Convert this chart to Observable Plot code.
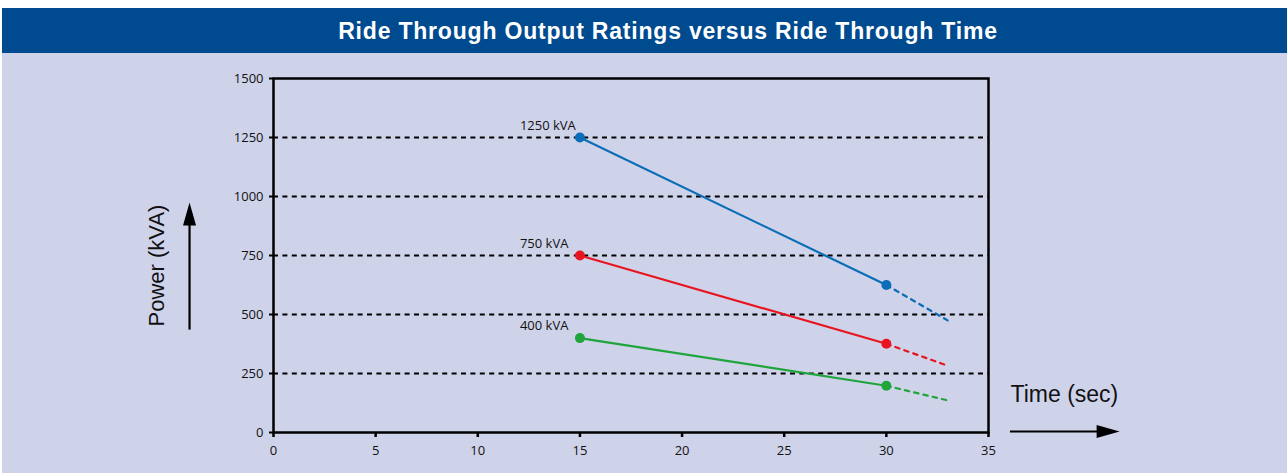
<!DOCTYPE html>
<html>
<head>
<meta charset="utf-8">
<script src="https://cdn.jsdelivr.net/npm/d3@7"></script>
<script src="https://cdn.jsdelivr.net/npm/@observablehq/plot@0.6"></script>
<style>
  html, body { margin: 0; padding: 0; background: #ffffff; }
  #wrap { position: relative; width: 1285px; margin-left: 2px; padding-top: 8px; }
  #header { position: relative; height: 45px; background: #004a8f; }
  #header span { position: absolute; left: 666px; top: 50%; transform: translate(-50%, -50%);
    font-family: "Liberation Sans", Arial, sans-serif; font-weight: bold; font-size: 23px; color: #ffffff; white-space: nowrap; letter-spacing: 0.8px; }
  #chart { background: #cfd3ea; height: 420px; }
  #chart svg { display: block; }
</style>
</head>
<body>
<div id="wrap">
  <div id="header"><span>Ride Through Output Ratings versus Ride Through Time</span></div>
  <div id="chart"></div>
</div>
<script>
// ---- data ----
const seriesNames = ["1250 kVA", "750 kVA", "400 kVA"];
const seriesColors = ["#0b6db7", "#e8141f", "#1fa53c"];
const times = [15, 30];
const power1250 = [1250, 625];
const power750 = [750, 376];
const power400 = [400, 198];
const extTime = 33;
const ext1250 = 475;
const ext750 = 283;
const ext400 = 136;
const xTicks = [0, 5, 10, 15, 20, 25, 30, 35];
const yTicks = [0, 250, 500, 750, 1000, 1250, 1500];
const gridValues = [250, 500, 750, 1000, 1250];
// axis-title arrows (in data units, outside the frame)
const yArrowX = [-4.11, -4.11];
const yArrowY = [436, 975];
const xArrowX = [36.05, 41.42];
const xArrowY = [4.2, 4.2];

const allSeries = [power1250, power750, power400];
const allExt = [ext1250, ext750, ext400];

const solid = [];
const dashed = [];
const dots = [];
const labels = [];
seriesNames.forEach((name, i) => {
  const vals = allSeries[i];
  times.forEach((t, j) => {
    solid.push({name, t, p: vals[j]});
    dots.push({name, t, p: vals[j]});
  });
  dashed.push({name, t: times[1], p: vals[1]});
  dashed.push({name, t: extTime, p: allExt[i]});
  labels.push({name, t: times[0], p: vals[0]});
});

const arrowHead = {
  draw(context) {
    context.moveTo(0, 0);
    context.lineTo(-6.5, 23);
    context.lineTo(6.5, 23);
    context.closePath();
  }
};

const fmt = d => String(d);

const chart = Plot.plot({
  width: 1285,
  height: 420,
  marginLeft: 271,
  marginRight: 299,
  marginTop: 25,
  marginBottom: 41,
  style: {background: "transparent", fontFamily: "'Open Sans', sans-serif", fontSize: "13px", color: "#111"},
  x: {domain: [0, 35], ticks: xTicks, tickSize: 5, tickPadding: 8, label: null, tickFormat: fmt},
  y: {domain: [0, 1500], ticks: yTicks, tickSize: 4, tickPadding: 6, label: null, tickFormat: fmt},
  color: {domain: seriesNames, range: seriesColors},
  marks: [
    Plot.ruleY(gridValues, {x1: 0, x2: 35, stroke: "#000", strokeWidth: 2.2, strokeDasharray: "5,4.4"}),
    Plot.axisX({ticks: xTicks, tickFormat: fmt, tickSize: 5, tickPadding: 8, strokeWidth: 2.5, stroke: "#000", fill: "#111", fontSize: 13}),
    Plot.axisY({ticks: yTicks, tickFormat: fmt, tickSize: 4, tickPadding: 6, strokeWidth: 2, stroke: "#000", fill: "#111", fontSize: 13}),
    Plot.frame({stroke: "#000", strokeWidth: 2.5}),
    Plot.line(dashed, {x: "t", y: "p", z: "name", stroke: "name", strokeWidth: 2.2, strokeDasharray: "4.5,5"}),
    Plot.line(solid, {x: "t", y: "p", z: "name", stroke: "name", strokeWidth: 2.2}),
    Plot.dot(dots, {x: "t", y: "p", fill: "name", r: 5}),
    Plot.text(labels, {x: "t", y: "p", text: "name", textAnchor: "start", dx: -60, dy: -12, fill: "#111", fontSize: 13}),
    // axis titles
    Plot.text(["Power (kVA)"], {frameAnchor: "left", text: d => d, textAnchor: "middle", rotate: -90, dx: -117, dy: 10, fontSize: 22,
      fontFamily: "'Liberation Sans', Arial, sans-serif", fill: "#111"}),
    Plot.text(["Time (sec)"], {frameAnchor: "bottom-right", text: d => d, textAnchor: "start", dx: 22, dy: -31, fontSize: 23,
      fontFamily: "'Liberation Sans', Arial, sans-serif", fill: "#111"}),
    // arrows
    Plot.link([0], {x1: () => yArrowX[0], x2: () => yArrowX[1], y1: () => yArrowY[0], y2: () => yArrowY[1] - 60, stroke: "#000", strokeWidth: 2.2}),
    Plot.dot([0], {x: () => yArrowX[1], y: () => yArrowY[1], symbol: arrowHead, fill: "#000", stroke: "none"}),
    Plot.link([0], {x1: () => xArrowX[0], x2: () => xArrowX[1] - 0.6, y1: () => xArrowY[0], y2: () => xArrowY[1], stroke: "#000", strokeWidth: 2.2}),
    Plot.dot([0], {x: () => xArrowX[1], y: () => xArrowY[1], symbol: arrowHead, rotate: 90, fill: "#000", stroke: "none"})
  ]
});
document.getElementById("chart").appendChild(chart);
</script>
</body>
</html>
